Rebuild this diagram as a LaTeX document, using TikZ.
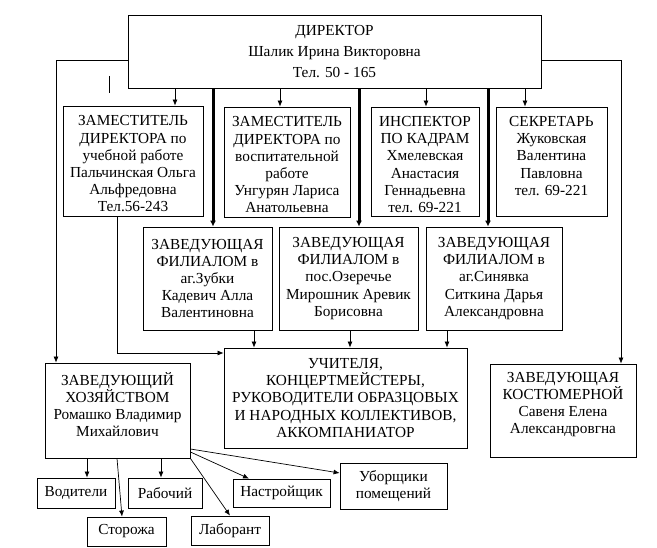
\documentclass[tikz,border=0pt]{standalone}
\usepackage{fontspec}
\setmainfont{Liberation Serif}
\usetikzlibrary{arrows.meta}

\begin{document}
\begin{tikzpicture}[x=1pt,y=-1pt,
  orgbox/.style={draw, line width=0.8pt, align=center, inner sep=1pt, font=\fontsize{15.3}{17.2}\selectfont},
  orgtext/.style={align=center, inner sep=1pt, font=\fontsize{15.3}{17.2}\selectfont},
  link/.style={-{Latex[length=6pt,width=5pt]}, line width=0.7pt},
  mainlink/.style={-{Latex[length=6pt,width=6pt]}, line width=3pt}]
\useasboundingbox (0,0) rectangle (657,548);

% director
\node[orgbox, minimum width=413pt, minimum height=73pt, font=\fontsize{15.3}{21}\selectfont] (dir) at (334.5,51.5) {ДИРЕКТОР\\Шалик Ирина Викторовна\\Тел. 50 - 165};

% first row
\node[orgbox, minimum width=140pt, minimum height=110pt] (zam1) at (133,161) {};
\node[orgtext] (zam1text) at ([yshift=-3pt]zam1.center) {ЗАМЕСТИТЕЛЬ\\ДИРЕКТОРА по\\учебной работе\\Пальчинская Ольга\\Альфредовна\\Тел.56-243};
\node[orgbox, minimum width=126pt, minimum height=110pt] (zam2) at (287,162) {};
\node[orgtext] (zam2text) at ([yshift=-3pt]zam2.center) {ЗАМЕСТИТЕЛЬ\\ДИРЕКТОРА по\\воспитательной\\работе\\Унгурян Лариса\\Анатольевна};
\node[orgbox, minimum width=108pt, minimum height=109pt] (insp) at (425,161.5) {};
\node[orgtext] (insptext) at ([yshift=-3pt]insp.center) {ИНСПЕКТОР\\ПО КАДРАМ\\Хмелевская\\Анастасия\\Геннадьевна\\тел. 69-221};
\node[orgbox, minimum width=111pt, minimum height=109pt] (sekr) at (551.5,161.5) {};
\node[orgtext] (sekrtext) at ([yshift=5.6pt]sekr.center) {СЕКРЕТАРЬ\\Жуковская\\Валентина\\Павловна\\тел. 69-221};

% branches
\node[orgbox, minimum width=129pt, minimum height=103pt] (zubki) at (207.5,278.5) {ЗАВЕДУЮЩАЯ\\ФИЛИАЛОМ в\\аг.Зубки\\Кадевич Алла\\Валентиновна};
\node[orgbox, minimum width=139pt, minimum height=103pt] (ozer) at (348.5,278.5) {ЗАВЕДУЮЩАЯ\\ФИЛИАЛОМ в\\пос.Озеречье\\Мирошник Аревик\\Борисовна};
\node[orgbox, minimum width=136pt, minimum height=103pt] (sin) at (494,278.5) {ЗАВЕДУЮЩАЯ\\ФИЛИАЛОМ в\\аг.Синявка\\Ситкина Дарья\\Александровна};

% third row
\node[orgbox, minimum width=243pt, minimum height=100pt] (uch) at (345.5,398) {УЧИТЕЛЯ,\\КОНЦЕРТМЕЙСТЕРЫ,\\РУКОВОДИТЕЛИ ОБРАЗЦОВЫХ\\И НАРОДНЫХ КОЛЛЕКТИВОВ,\\АККОМПАНИАТОР};
\node[orgbox, minimum width=145pt, minimum height=95pt] (hoz) at (117.5,410.5) {};
\node[orgtext] (hoztext) at ([yshift=6pt]hoz.center) {ЗАВЕДУЮЩИЙ\\ХОЗЯЙСТВОМ\\Ромашко Владимир\\Михайлович};
\node[orgbox, minimum width=146pt, minimum height=93pt] (kost) at (563,410.5) {};
\node[orgtext] (kosttext) at ([yshift=6pt]kost.center) {ЗАВЕДУЮЩАЯ\\КОСТЮМЕРНОЙ\\Савеня Елена\\Александровгна};

% staff
\node[orgbox, minimum width=78pt, minimum height=30pt] (vod) at (76,493) {Водители};
\node[orgbox, minimum width=74pt, minimum height=30pt] (rab) at (165,493) {Рабочий};
\node[orgbox, minimum width=79pt, minimum height=29pt] (stor) at (126.5,531.5) {Сторожа};
\node[orgbox, minimum width=78pt, minimum height=29pt] (lab) at (230,530.5) {Лаборант};
\node[orgbox, minimum width=97pt, minimum height=28pt] (nastr) at (281.5,493) {Настройщик};
\node[orgbox, minimum width=107pt, minimum height=46pt] (ubor) at (393.5,486) {Уборщики\\помещений};

% director to first row
\foreach \n/\x in {zam1/175, zam2/280, insp/426, sekr/525}
  \draw[link] (\x,0 |- dir.south) -- (\x,0 |- \n.north);

% director to branches
\foreach \n/\x in {zubki/213, ozer/359, sin/488}
  \draw[mainlink] (\x,0 |- dir.south) -- (\x,0 |- \n.north);

% side lines
\coordinate (lbend) at (56,60);
\coordinate (rbend) at (621,60);
\draw[link] (dir.west |- lbend) -- (lbend) -- (lbend |- hoz.north);
\draw[link] (dir.east |- rbend) -- (rbend) -- (rbend |- kost.north);
\draw[line width=0.7pt] (109,76) -- (109,93); % mark

% deputy to teachers
\coordinate (zbend) at (117,353);
\draw[link] (zbend |- zam1.south) -- (zbend) -- (zbend -| uch.west);

% branches to teachers
\foreach \n/\x in {zubki/254, ozer/350, sin/447}
  \draw[link] (\x,0 |- \n.south) -- (\x,0 |- uch.north);

% household staff
\foreach \n/\x in {vod/87, rab/161}
  \draw[link] (\x,0 |- hoz.south) -- (\x,0 |- \n.north);
\draw[link] (117,0 |- hoz.south) -- (122,0 |- stor.north);
\draw[link] (hoz.south east) -- (lab.north);
\draw[link] (hoz.east |- 0,452) -- (249,0 |- nastr.north);
\draw[link] (hoz.east |- 0,449) -- (ubor.west |- 0,473);

\end{tikzpicture}
\end{document}
